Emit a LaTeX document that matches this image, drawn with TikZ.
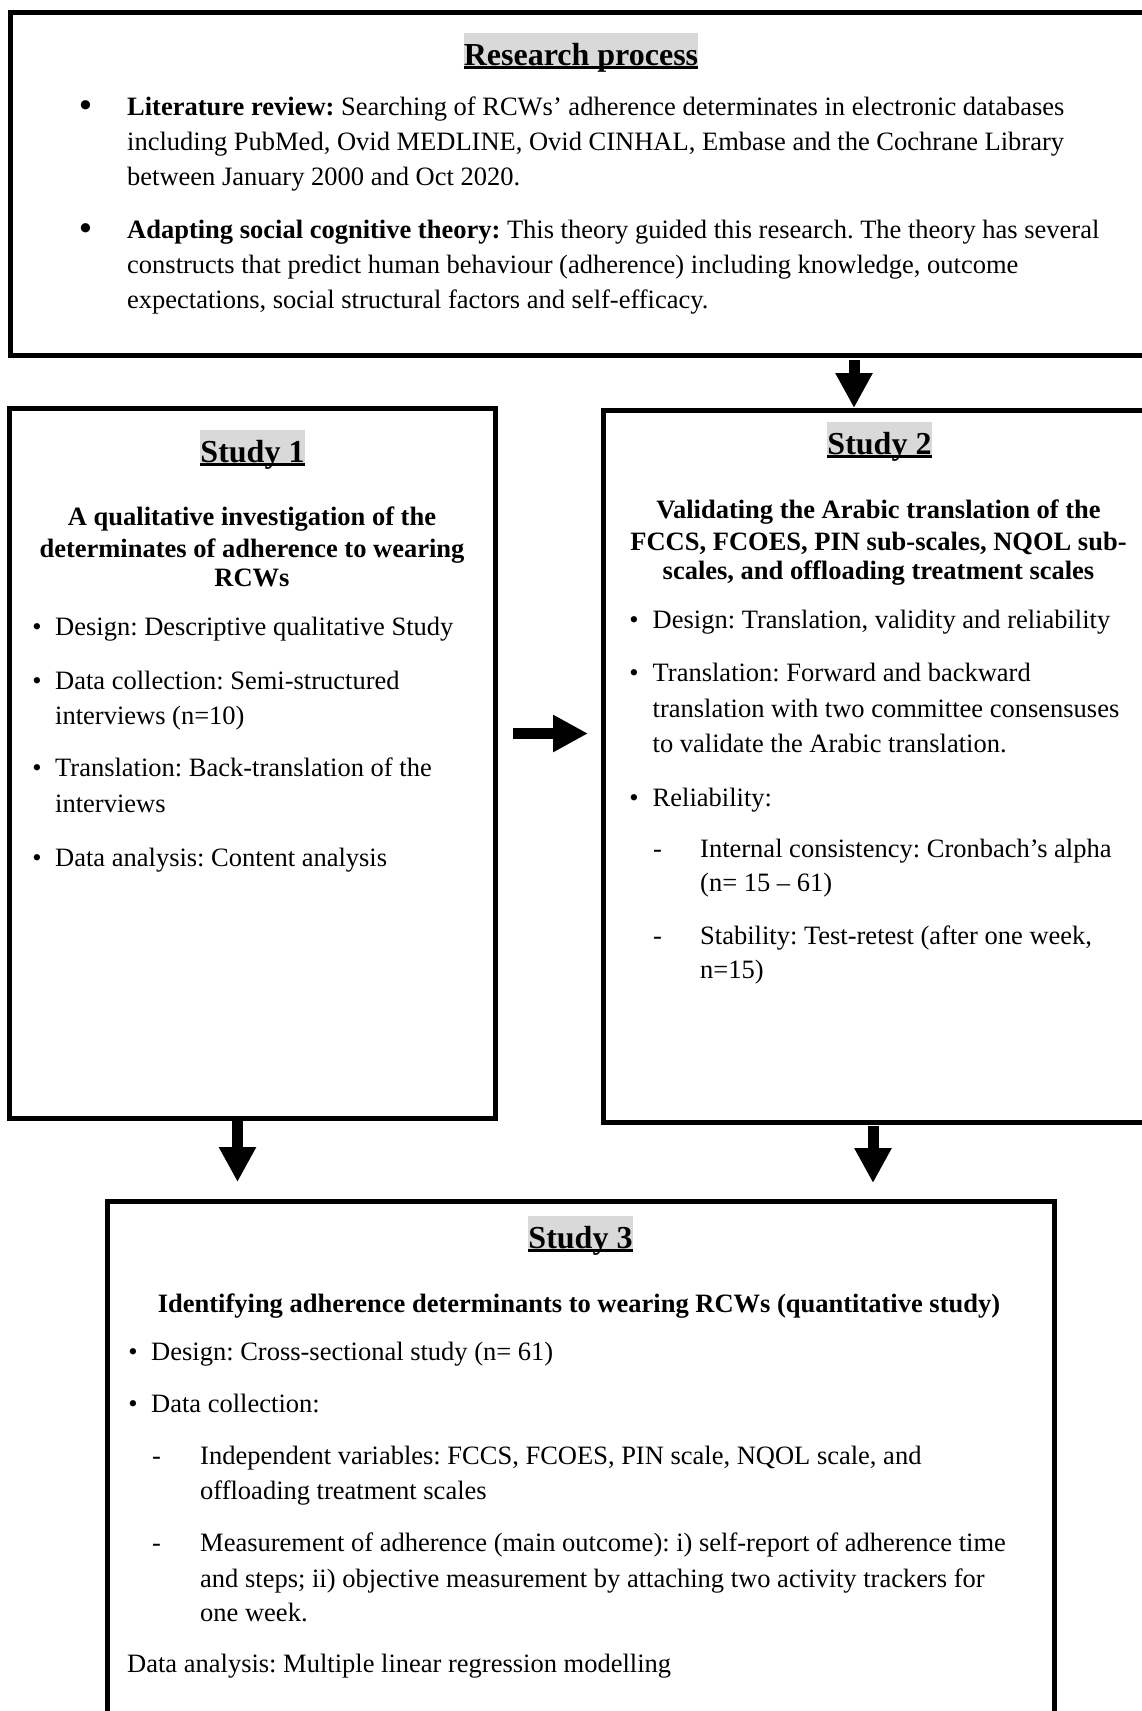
\documentclass[tikz,border=0pt]{standalone}
\usepackage{fontspec}
\setmainfont{Liberation Serif}
\usetikzlibrary{arrows.meta}
\definecolor{hl}{RGB}{217,217,217}
\newcommand\bodyfont{\fontsize{26.5}{35}\selectfont\frenchspacing}
\newcommand\headfont{\fontsize{32}{38}\selectfont\bfseries}
\begin{document}
\begin{tikzpicture}[x=1pt,y=-1pt,
  box/.style={draw, line width=5pt, line join=miter, inner sep=0pt},
  txt/.style={anchor=base west, inner sep=0pt, font=\bodyfont},
  sub/.style={anchor=base, inner sep=0pt, font=\bodyfont\bfseries},
  bul/.style={anchor=base, inner sep=0pt, font=\bodyfont},
  bigbul/.style={anchor=base, inner sep=0pt, font=\fontsize{34}{40}\selectfont\bfseries},
  head/.style={anchor=base, inner sep=0pt, fill=hl, text height=32pt, text depth=4pt, font=\headfont},
  uline/.style={line width=3pt},
  bigarrow/.style={line width=11pt, -{Triangle[width=35pt,length=35pt]}}
]
\fill[white] (0,0) rectangle (1141,1711);
\useasboundingbox (0,0) rectangle (1141,1711);

% boxes
\node[box, minimum width=1150pt, minimum height=343pt] (top) at (585,184) {};
\node[box, minimum width=486.5pt, minimum height=710.5pt] (s1) at (252.25,763.25) {};
\node[box, minimum width=557pt, minimum height=711.5pt] (s2) at (881.5,766.25) {};
\node[box, minimum width=947.5pt, minimum height=549pt] (s3) at (580.75,1475.5) {};

% ---- top box
\node[head] (h0) at (581,65) {Research process};
\draw[uline] ([yshift=-2.5pt]h0.base west) -- ([yshift=-2.5pt]h0.base east);
\node[bigbul] (b01) at (85.5,116) {\textbullet};
\node[txt] (t01) at (127,115) {\textbf{Literature review:} Searching of RCWs’ adherence determinates in electronic databases};
\node[txt] (t02) at (127,150) {including PubMed, Ovid MEDLINE, Ovid CINHAL, Embase and the Cochrane Library};
\node[txt] (t03) at (127,185) {between January 2000 and Oct 2020.};
\node[bigbul] (b02) at (85.5,239) {\textbullet};
\node[txt] (t04) at (127,238) {\textbf{Adapting social cognitive theory:} This theory guided this research. The theory has several};
\node[txt] (t05) at (127,273) {constructs that predict human behaviour (adherence) including knowledge, outcome};
\node[txt] (t06) at (127,308) {expectations, social structural factors and self-efficacy.};

% ---- study 1
\node[head] (h1) at (252.5,462) {Study 1};
\draw[uline] ([yshift=-2.5pt]h1.base west) -- ([yshift=-2.5pt]h1.base east);
\node[sub] (u11) at (252,525) {A qualitative investigation of the};
\node[sub] (u12) at (252,557) {determinates of adherence to wearing};
\node[sub] (u13) at (252,586) {RCWs};
\node[bul] (b11) at (37,635) {\textbullet};
\node[txt] (t11) at (55,635) {Design: Descriptive qualitative Study};
\node[bul] (b12) at (37,689) {\textbullet};
\node[txt] (t12) at (55,689) {Data collection: Semi-structured};
\node[txt] (t13) at (55,724) {interviews (n=10)};
\node[bul] (b13) at (37,776.5) {\textbullet};
\node[txt] (t14) at (55,776.5) {Translation: Back-translation of the};
\node[txt] (t15) at (55,812) {interviews};
\node[bul] (b14) at (37,866) {\textbullet};
\node[txt] (t16) at (55,866) {Data analysis: Content analysis};

% ---- study 2
\node[head] (h2) at (879.5,454) {Study 2};
\draw[uline] ([yshift=-2.5pt]h2.base west) -- ([yshift=-2.5pt]h2.base east);
\node[sub] (u21) at (878.5,518) {Validating the Arabic translation of the};
\node[sub] (u22) at (878.5,550) {FCCS, FCOES, PIN sub-scales, NQOL sub-};
\node[sub] (u23) at (878.5,579) {scales, and offloading treatment scales};
\node[bul] (b21) at (634,628) {\textbullet};
\node[txt] (t21) at (652.5,628) {Design: Translation, validity and reliability};
\node[bul] (b22) at (634,681.5) {\textbullet};
\node[txt] (t22) at (652.5,681.5) {Translation: Forward and backward};
\node[txt] (t23) at (652.5,717) {translation with two committee consensuses};
\node[txt] (t24) at (652.5,752) {to validate the Arabic translation.};
\node[bul] (b23) at (634,806) {\textbullet};
\node[txt] (t25) at (652.5,806) {Reliability:};
\node[txt] (d21) at (653,857.5) {-};
\node[txt] (t26) at (700,857.5) {Internal consistency: Cronbach’s alpha};
\node[txt] (t27) at (700,891) {(n= 15 – 61)};
\node[txt] (d22) at (653,944) {-};
\node[txt] (t28) at (700,944) {Stability: Test-retest (after one week,};
\node[txt] (t29) at (700,978.5) {n=15)};

% ---- study 3
\node[head] (h3) at (580.5,1248) {Study 3};
\draw[uline] ([yshift=-2.5pt]h3.base west) -- ([yshift=-2.5pt]h3.base east);
\node[sub] (u31) at (579,1312) {Identifying adherence determinants to wearing RCWs (quantitative study)};
\node[bul] (b31) at (133,1360) {\textbullet};
\node[txt] (t31) at (151,1360) {Design: Cross-sectional study (n= 61)};
\node[bul] (b32) at (133,1412) {\textbullet};
\node[txt] (t32) at (151,1412) {Data collection:};
\node[txt] (d31) at (152,1464) {-};
\node[txt] (t33) at (200,1464) {Independent variables: FCCS, FCOES, PIN scale, NQOL scale, and};
\node[txt] (t34) at (200,1499.5) {offloading treatment scales};
\node[txt] (d32) at (152,1551) {-};
\node[txt] (t35) at (200,1551) {Measurement of adherence (main outcome): i) self-report of adherence time};
\node[txt] (t36) at (200,1587) {and steps; ii) objective measurement by attaching two activity trackers for};
\node[txt] (t37) at (200,1621) {one week.};
\node[txt] (t38) at (127,1672) {Data analysis: Multiple linear regression modelling};

% ---- arrows
\draw[bigarrow] ([shift={(269pt,-2pt)}]top.south) -- ([xshift=-27.5pt]s2.north);
\draw[bigarrow] ([shift={(15pt,29.75pt)}]s1.east) -- ([shift={(-12.5pt,32.75pt)}]s2.west);
\draw[bigarrow] ([xshift=-14.75pt]s1.south) -- ([shift={(-343.25pt,16.5pt)}]s3.north);
\draw[bigarrow] ([shift={(-8.5pt,-1pt)}]s2.south) -- ([shift={(292.25pt,15.5pt)}]s3.north);
\end{tikzpicture}
\end{document}
